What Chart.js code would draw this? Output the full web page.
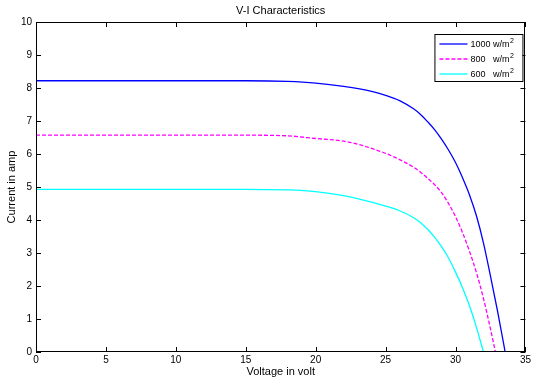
<!DOCTYPE html>
<html>
<head>
<meta charset="utf-8">
<script src="https://cdn.jsdelivr.net/npm/chart.js@4"></script>
<style>
  html, body { margin: 0; padding: 0; background: #fff; }
  #wrap { width: 533px; height: 385px; position: relative; }
</style>
</head>
<body>
<div id="wrap"><canvas id="viChart"></canvas></div>
<script>
// irradiance curves, voltage (V) vs current (A)
var volt_1000 = [0, 5, 10, 15, 18, 20, 22, 24, 25, 26, 27, 27.5, 28, 28.5, 29, 29.5, 30, 30.5, 31, 31.5, 32, 32.5, 33, 33.55];
var amp_1000 = [8.22, 8.22, 8.22, 8.22, 8.2, 8.15, 8.05, 7.9, 7.78, 7.62, 7.37, 7.2, 6.98, 6.74, 6.45, 6.12, 5.74, 5.28, 4.76, 4.12, 3.3, 2.3, 1.25, 0];

var volt_800 = [0, 5, 10, 15, 18, 20, 22, 23, 24, 25, 26, 27, 27.5, 28, 28.5, 29, 29.5, 30, 30.5, 31, 31.5, 32, 32.5, 32.85];
var amp_800 = [6.57, 6.57, 6.57, 6.57, 6.55, 6.47, 6.39, 6.3, 6.17, 6.02, 5.83, 5.6, 5.45, 5.27, 5.07, 4.83, 4.5, 4.1, 3.62, 3.05, 2.4, 1.62, 0.7, 0];

var volt_600 = [0, 5, 10, 15, 18, 20, 22, 23, 24, 25, 26, 27, 27.5, 28, 28.5, 29, 29.5, 30, 30.5, 31, 31.5, 32.0];
var amp_600 = [4.93, 4.93, 4.93, 4.93, 4.91, 4.86, 4.74, 4.65, 4.54, 4.42, 4.28, 4.07, 3.92, 3.72, 3.48, 3.19, 2.85, 2.42, 1.95, 1.4, 0.74, 0];

var series_labels = ["1000 w/m", "800   w/m", "600   w/m"];
var series_colors = ["#0000ff", "#ff00ff", "#00ffff"];

var FONT = "'Liberation Sans', Arial, sans-serif";

function toPoints(xs, ys) {
    return xs.map((v, i) => ({ x: v, y: ys[i] }));
}

// MATLAB style box with inward ticks on all four sides
var boxTicks = {
    id: "boxTicks",
    afterDatasetsDraw(chart) {
        var ctx = chart.ctx;
        var a = chart.chartArea;
        var x = chart.scales.x;
        var y = chart.scales.y;
        ctx.save();
        ctx.strokeStyle = "#000";
        ctx.lineWidth = 1;
        ctx.beginPath();
        x.ticks.forEach((t) => {
            var px = Math.round(x.getPixelForValue(t.value)) + 0.5;
            ctx.moveTo(px, a.bottom);
            ctx.lineTo(px, a.bottom - 5);
            ctx.moveTo(px, a.top);
            ctx.lineTo(px, a.top + 5);
        });
        y.ticks.forEach((t) => {
            var py = Math.round(y.getPixelForValue(t.value)) + 0.5;
            ctx.moveTo(a.left, py);
            ctx.lineTo(a.left + 5, py);
            ctx.moveTo(a.right, py);
            ctx.lineTo(a.right - 5, py);
        });
        ctx.stroke();
        ctx.strokeRect(Math.round(a.left) + 0.5, Math.round(a.top) + 0.5,
            Math.round(a.right - a.left) - 1, Math.round(a.bottom - a.top) - 1);

        // title over the plot box
        ctx.fillStyle = "#000";
        ctx.font = "11px " + FONT;
        ctx.textAlign = "center";
        ctx.textBaseline = "middle";
        ctx.fillText("V-I Characteristics", (a.left + a.right) / 2, 11);
        ctx.restore();
    },
};

// boxed legend in the top right corner
var boxLegend = {
    id: "boxLegend",
    afterDraw(chart) {
        var ctx = chart.ctx;
        var a = chart.chartArea;
        var left = a.right - 91, top = 34, w = 88, h = 47;
        ctx.save();
        ctx.fillStyle = "#fff";
        ctx.fillRect(left, top, w, h);
        ctx.strokeStyle = "#000";
        ctx.lineWidth = 1;
        ctx.strokeRect(left + 0.5, top + 0.5, w, h);
        chart.data.datasets.forEach((ds, i) => {
            var ly = top + 10 + i * 15;
            ctx.strokeStyle = ds.borderColor;
            ctx.lineWidth = 1.3;
            ctx.setLineDash(ds.borderDash || []);
            ctx.beginPath();
            ctx.moveTo(left + 5, ly);
            ctx.lineTo(left + 33, ly);
            ctx.stroke();
            ctx.setLineDash([]);
            ctx.fillStyle = "#000";
            ctx.font = "9px " + FONT;
            ctx.textAlign = "left";
            ctx.textBaseline = "middle";
            ctx.fillText(ds.label, left + 36, ly + 1);
            var tw = ctx.measureText(ds.label).width;
            ctx.font = "7px " + FONT;
            ctx.fillText("2", left + 36 + tw + 0.5, ly - 3);
        });
        ctx.restore();
    },
};

var viCanvas = document.getElementById("viChart").getContext("2d");

var viData = {
    datasets: [
        {
            label: series_labels[0],
            data: toPoints(volt_1000, amp_1000),
            borderColor: series_colors[0],
        },
        {
            label: series_labels[1],
            data: toPoints(volt_800, amp_800),
            borderColor: series_colors[1],
            borderDash: [4, 2],
        },
        {
            label: series_labels[2],
            data: toPoints(volt_600, amp_600),
            borderColor: series_colors[2],
        },
    ].map((d) => Object.assign(d, {
        showLine: true,
        pointRadius: 0,
        borderWidth: 1.3,
        cubicInterpolationMode: "monotone",
        fill: false,
    })),
};

var tickFont = { family: FONT, size: 10 };
var titleFont = { family: FONT, size: 11 };

new Chart(viCanvas, {
    type: "scatter",
    data: viData,
    options: {
        responsive: true,
        maintainAspectRatio: false,
        animation: false,
        layout: { padding: { top: 22, right: 5, left: 0, bottom: 0 } },
        plugins: {
            legend: { display: false },
            title: { display: false },
            tooltip: { enabled: false },
        },
        scales: {
            x: {
                type: "linear",
                min: 0,
                max: 35,
                ticks: { stepSize: 5, color: "#000", font: tickFont, padding: 2, maxRotation: 0 },
                grid: { display: false, drawTicks: false },
                border: { display: false },
                title: { display: true, text: "Voltage in volt", color: "#000", font: titleFont, padding: { top: 0, bottom: 6 } },
                afterFit: (scale) => { scale.height = 33; },
            },
            y: {
                type: "linear",
                min: 0,
                max: 10,
                ticks: { stepSize: 1, color: "#000", font: tickFont, padding: 4 },
                grid: { display: false, drawTicks: false },
                border: { display: false },
                title: { display: true, text: "Current in amp", color: "#000", font: titleFont, padding: { top: 5, bottom: 0 } },
                afterFit: (scale) => { scale.width = 36; },
            },
        },
    },
    plugins: [boxTicks, boxLegend],
});
</script>
</body>
</html>
